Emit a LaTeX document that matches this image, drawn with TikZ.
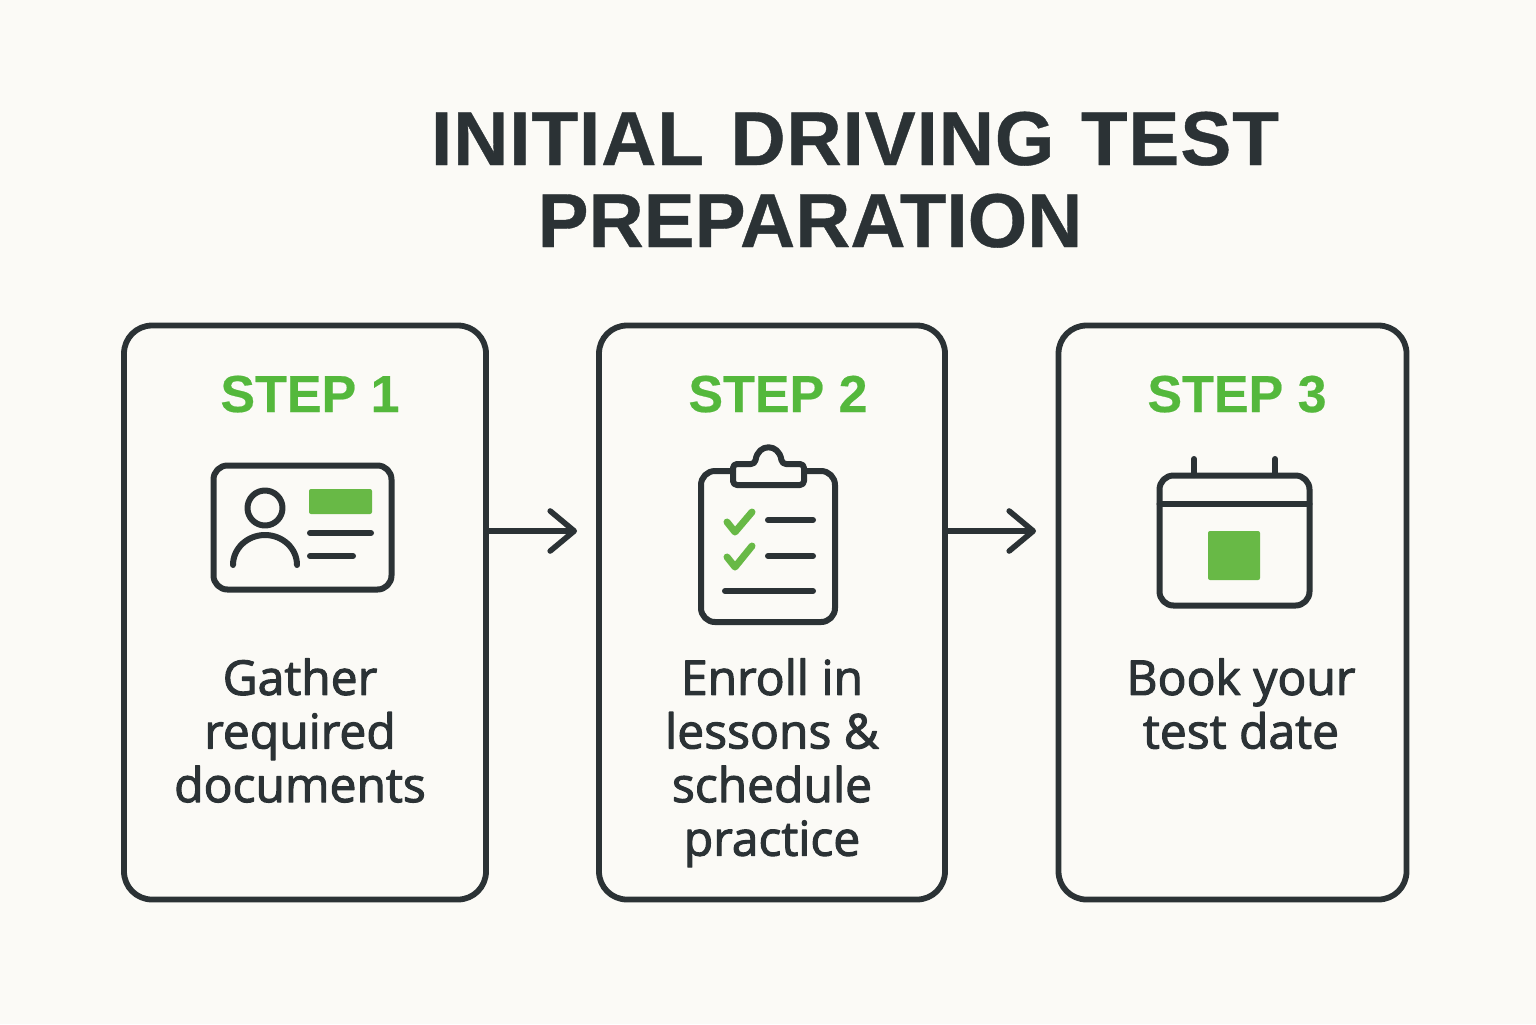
\documentclass[tikz,border=0pt]{standalone}
\usepackage{fontspec}
\setmainfont{Liberation Sans}
\newfontfamily\headfont[FakeBold=0.5,LetterSpace=1.2,WordSpace=1.2]{Liberation Sans Bold}
\newfontfamily\headplain[FakeBold=0.5]{Liberation Sans Bold}
\newfontfamily\stepfont[FakeBold=0.4]{Liberation Sans Bold}
\newfontfamily\bodyfont[FakeBold=2.2]{Open Sans}
\usetikzlibrary{arrows.meta}
\definecolor{pagebg}{HTML}{FBFAF6}
\definecolor{inkdark}{HTML}{2B3235}
\definecolor{stepgreen}{HTML}{54B83C}
\definecolor{fillgreen}{HTML}{68B946}
\begin{document}
\begin{tikzpicture}[x=0.5pt,y=-0.5pt,
        line cap=round,line join=round,
        every node/.style={text=inkdark,inner sep=0pt},
        titletext/.style={font=\fontsize{38.2}{46}\selectfont,anchor=base},
        steptext/.style={font=\stepfont\fontsize{26}{30}\selectfont,text=stepgreen,anchor=base},
        bodytext/.style={font=\bodyfont\fontsize{24}{26.8}\selectfont,align=center,anchor=north},
        stepbox/.style={draw=inkdark,line width=2.9pt,rounded corners=14pt,minimum height=287pt},
        icon/.style={draw=inkdark,line width=3pt},
        greenmark/.style={fill=fillgreen,rounded corners=1pt},
        flow/.style={draw=inkdark,line width=2.8pt,-{Straight Barb[length=12pt,width=20pt,line width=2.8pt,round]}}]
    \fill[pagebg] (0,0) rectangle (1536,1024);
    \useasboundingbox (0,0) rectangle (1536,1024);

    \node (titleA) [titletext] at (855,165) {\headfont INITIAL DRIVING TEST};
    \node (titleB) [titletext] at (810,247) {\headplain PREPARATION};

    \node (boxA) [stepbox,minimum width=181pt] at (305,612.5) {};
    \node (boxB) [stepbox,minimum width=173pt] at (772,612.5) {};
    \node (boxC) [stepbox,minimum width=174pt] at (1232.5,612.5) {};

    \coordinate (tipA) at (577,531);
    \coordinate (tipB) at (1036,531);
    \draw[flow] (boxA.east |- tipA) -- (tipA);
    \draw[flow] (boxB.east |- tipB) -- (tipB);

    \node (stepA) [steptext] at (310,412) {STEP 1};
    \node (stepB) [steptext] at (778,412) {STEP 2};
    \node (stepC) [steptext] at (1237,412) {STEP 3};

    \node (textA) [bodytext] at (300,658) {Gather\\required\\documents};
    \node (textB) [bodytext] at (772,658) {Enroll in\\lessons \&\\schedule\\practice};
    \node (textC) [bodytext] at (1241,658) {Book your\\test date};

    \draw[icon,rounded corners=7pt] (213.5,465.5) rectangle (391.5,589.5);
    \draw[icon] (265,508) circle (17.5);
    \draw[icon] (233,565) arc[start angle=180,end angle=0,x radius=32,y radius=-30];
    \fill[greenmark] (309,489) rectangle (372,514);
    \draw[icon] (310,533) -- (371,533);
    \draw[icon] (310,556) -- (353,556);

    \draw[icon,rounded corners=7pt] (733,471) -- (701,471) -- (701,622) -- (835,622) -- (835,471) -- (804,471);
    \draw[icon,rounded corners=2pt] (733,485) -- (733,464) -- (755,464)
        .. controls (758,443) and (779,443) .. (782,464) -- (804,464) -- (804,485) -- cycle;
    \draw[icon,draw=fillgreen,line width=3.5pt] (727,522) -- (735,532) -- (752,512);
    \draw[icon,draw=fillgreen,line width=3.5pt] (727,557) -- (735,567) -- (752,546);
    \draw[icon] (768,520) -- (813,520);
    \draw[icon] (768,556) -- (813,556);
    \draw[icon] (725,591) -- (813,591);

    \draw[icon,rounded corners=7pt] (1159.5,475.5) rectangle (1309.5,605.5);
    \draw[icon] (1159.5,504) -- (1309.5,504);
    \draw[icon] (1194,459) -- (1194,475);
    \draw[icon] (1275,459) -- (1275,475);
    \fill[greenmark] (1208,531) rectangle (1260,580);
\end{tikzpicture}
\end{document}
